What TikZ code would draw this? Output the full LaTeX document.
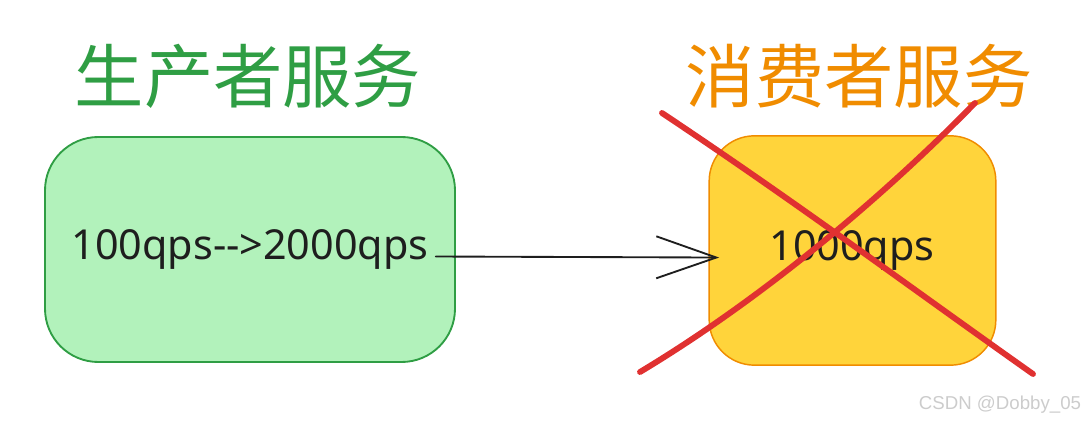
\documentclass[tikz,border=0pt]{standalone}
\usepackage{fontspec}
\setmainfont{Noto Sans}
\setsansfont{Liberation Sans}
\newfontfamily\cjk{Noto Sans CJK SC}
\usepackage{xcolor}
\usetikzlibrary{arrows.meta,calc}
\definecolor{prodfill}{HTML}{B2F2BB}
\definecolor{prodline}{HTML}{2F9E44}
\definecolor{consfill}{HTML}{FFD43B}
\definecolor{consline}{HTML}{F08C00}
\definecolor{crossred}{HTML}{E03131}
\definecolor{ink}{HTML}{1E1E1E}
\tikzset{
  svcbox/.style={draw,line width=1.4pt,rounded corners=40pt,inner sep=0pt},
  qpstext/.style={font=\fontsize{31}{36}\selectfont,text=ink},
  svctitle/.style={font=\cjk\fontsize{52}{60}\selectfont},
}

\begin{document}
\begin{tikzpicture}[x=0.75pt,y=-0.75pt,line cap=round,line join=round]
  \useasboundingbox (0,0) rectangle (1089,423);
  % boxes
  \node[svcbox,fill=prodfill,draw=prodline,minimum width=307.5pt,minimum height=168.75pt] (prod) at (250,249.5) {};
  \node[svcbox,fill=consfill,draw=consline,minimum width=215pt,minimum height=172pt,rounded corners=34pt,line width=1.1pt] (cons) at (852.5,250.5) {};
  \node[qpstext] (prodqps) at (prod.center) {100qps-{}->2000qps};
  \node[qpstext] (consqps) at (852,250) {1000qps};
  % titles
  \node[svctitle,text=prodline] (prodtitle) at (248,76) {生产者服务};
  \node[svctitle,text=consline] (constitle) at (859,76) {消费者服务};
  % arrow
  \draw[ink,line width=1.4pt,-{Straight Barb[length=45pt,width=31.5pt,line width=1.4pt]},shorten <=2pt,shorten >=-8pt] ($(prodqps.east)+(0,7)$) -- ($(cons.west)+(0,7)$);
  % cross
  \draw[crossred,line width=4.4pt] (662,113) .. controls (800,205) and (900,280) .. (1033,374);
  \draw[crossred,line width=4.4pt] (640,372) .. controls (760,300) and (880,200) .. (975,103);
  % watermark
  \node[font=\sffamily\fontsize{14}{16}\selectfont,text=black!20] (mark) at (1000,405) {CSDN @Dobby\_05};
\end{tikzpicture}
\end{document}
